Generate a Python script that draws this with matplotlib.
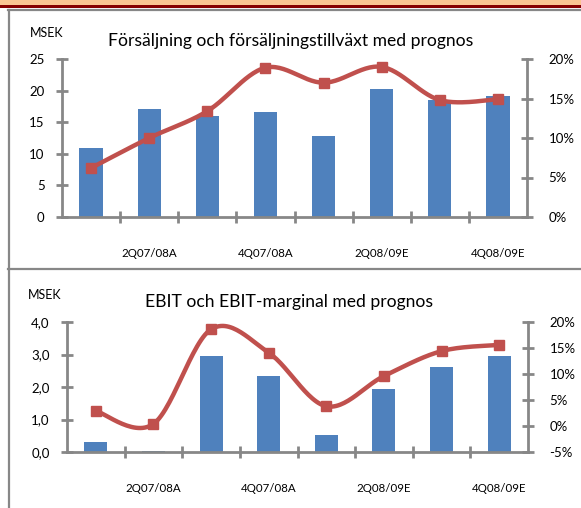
import matplotlib.pyplot as plt
import numpy as np
from matplotlib.patches import Rectangle
from matplotlib.lines import Line2D
from matplotlib.ticker import FuncFormatter

# kvartal (varannan etikett visas som i originalet)
kvartal = ['1Q07/08A', '2Q07/08A', '3Q07/08A', '4Q07/08A',
           '1Q08/09E', '2Q08/09E', '3Q08/09E', '4Q08/09E']

# försäljning MSEK och tillväxt %
forsaljning = [10.9, 17.1, 16.0, 16.6, 12.8, 20.3, 18.5, 19.2]
tillvaxt = [6.2, 10.0, 13.4, 18.9, 17.0, 19.0, 14.8, 14.9]

# EBIT MSEK och EBIT-marginal %
ebit = [0.30, 0.04, 2.96, 2.35, 0.52, 1.93, 2.63, 2.96]
marginal = [2.9, 0.4, 18.6, 14.1, 3.8, 9.6, 14.4, 15.6]

BLA = '#4F81BD'
ROD = '#C0504D'
GRA = '#878787'
FONT = 'Lato'

W, H = 581, 508
fig = plt.figure(figsize=(W / 100, H / 100), dpi=100)


def px(x0, y0, x1, y1):
    # pixelruta -> figurkoordinater
    return [x0 / W, 1 - y1 / H, (x1 - x0) / W, (y1 - y0) / H]


def smooth(xs, ys, n=30):
    # Catmull-Rom, liknar Excels utjämnade linje
    p = np.column_stack([xs, ys]).astype(float)
    p = np.vstack([p[0], p, p[-1]])
    out = []
    for i in range(1, len(p) - 2):
        p0, p1, p2, p3 = p[i - 1], p[i], p[i + 1], p[i + 2]
        t = np.linspace(0, 1, n)[:, None]
        c = 0.5 * ((2 * p1) + (-p0 + p2) * t + (2 * p0 - 5 * p1 + 4 * p2 - p3) * t ** 2
                   + (-p0 + 3 * p1 - 3 * p2 + p3) * t ** 3)
        out.append(c)
    c = np.vstack(out)
    return c[:, 0], c[:, 1]


def diagram(rect, bars, line, ylim, yticks, y2lim, y2ticks, yfmt):
    ax = fig.add_axes(rect)
    x = np.arange(len(bars))
    ax.bar(x, bars, width=0.4, color=BLA, zorder=2)
    ax.set_xlim(-0.5, len(bars) - 0.5)
    ax.set_ylim(*ylim)
    ax.set_yticks(yticks)
    ax.yaxis.set_major_formatter(FuncFormatter(yfmt))

    ax2 = ax.twinx()
    sx, sy = smooth(x, line)
    ax2.plot(sx, sy, color=ROD, lw=3.2, solid_capstyle='round', zorder=3)
    ax2.plot(x, line, 's', color=ROD, ms=7.5, zorder=4)
    ax2.set_ylim(*y2lim)
    ax2.set_yticks(y2ticks)
    ax2.yaxis.set_major_formatter(FuncFormatter(lambda v, p: f'{v:.0f}%'))

    for a in (ax, ax2):
        for s in a.spines.values():
            s.set_visible(False)
        a.tick_params(axis='y', direction='inout', length=9, width=2, color=GRA,
                      labelsize=9.5, labelfontfamily=FONT)
    ax.spines['left'].set_visible(True)
    ax.spines['bottom'].set_visible(True)
    ax2.spines['right'].set_visible(True)
    for s in (ax.spines['left'], ax.spines['bottom'], ax2.spines['right']):
        s.set_color(GRA)
        s.set_linewidth(2)
    ax.tick_params(axis='y', pad=8)
    ax2.tick_params(axis='y', pad=11)

    ax.set_xticks(np.arange(0.5, len(bars) - 0.5, 1.0))
    ax.set_xticklabels([])
    ax.tick_params(axis='x', which='major', direction='inout', length=9, width=2, color=GRA)
    ax.set_xticks(x[1::2], minor=True)
    ax.set_xticklabels([kvartal[i] for i in x[1::2]], minor=True)
    ax.tick_params(axis='x', which='minor', length=0, pad=22, labelsize=8.3,
                   labelfontfamily=FONT)
    return ax


diagram(px(62, 59, 527, 217), forsaljning, tillvaxt, (0, 25), range(0, 26, 5),
        (0, 20), range(0, 21, 5), lambda v, p: f'{v:.0f}')
diagram(px(67, 322, 528, 452), ebit, marginal, (0, 4), range(0, 5),
        (-5, 20), range(-5, 21, 5), lambda v, p: f'{v:.1f}'.replace('.', ','))

fig.text(291 / W, 1 - 41 / H, 'Försäljning och försäljningstillväxt med prognos',
         ha='center', va='center', fontsize=12.6, family=FONT)
fig.text(30 / W, 1 - 33 / H, 'MSEK', ha='left', va='center', fontsize=9, family=FONT)
fig.text(289 / W, 1 - 302 / H, 'EBIT och EBIT-marginal med prognos',
         ha='center', va='center', fontsize=12.6, family=FONT)
fig.text(28 / W, 1 - 295 / H, 'MSEK', ha='left', va='center', fontsize=9, family=FONT)

# ram och rubrikband
fig.add_artist(Rectangle((0, 1 - 4.5 / H), 1, 4.5 / H, transform=fig.transFigure,
                         color='#FAC592', lw=0))
fig.add_artist(Rectangle((0, 1 - 7.5 / H), 1, 3 / H, transform=fig.transFigure,
                         color='#860000', lw=0))
fig.add_artist(Line2D([8 / W, 1], [1 - 10 / H] * 2, transform=fig.transFigure,
                      color=GRA, lw=1.6))
fig.add_artist(Line2D([9 / W] * 2, [0, 1 - 10 / H], transform=fig.transFigure,
                      color=GRA, lw=1.6))
fig.add_artist(Line2D([8 / W, 1], [1 - 269 / H] * 2, transform=fig.transFigure,
                      color=GRA, lw=1.6))

fig.savefig('out.png', dpi=100)
